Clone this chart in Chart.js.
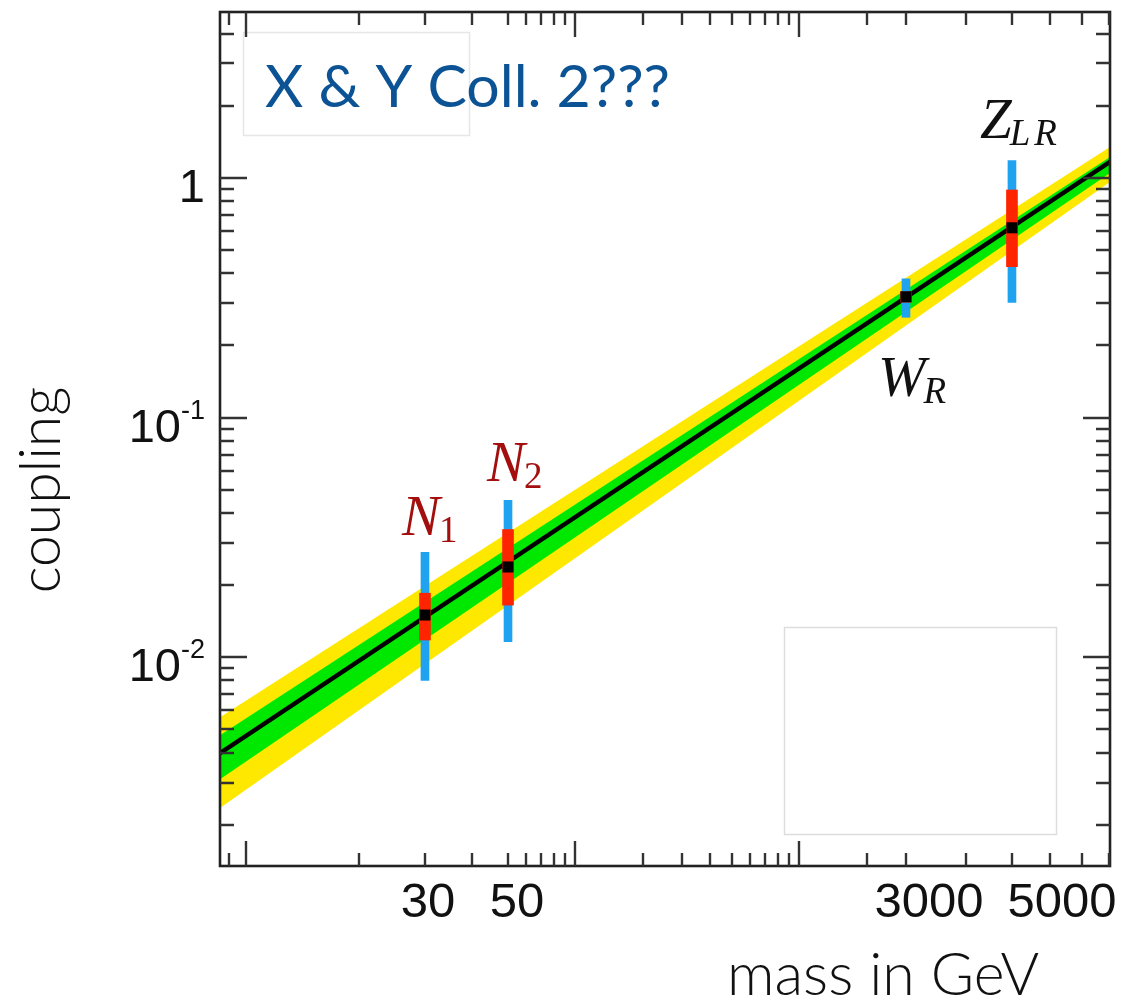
<!DOCTYPE html>
<html>
<head>
<meta charset="utf-8">
<title>coupling vs mass</title>
<script src="https://cdn.jsdelivr.net/npm/chart.js@4.4.1/dist/chart.umd.min.js"></script>
<style>
  html, body { margin: 0; padding: 0; background: #fff; }
  #chart { display: block; }
</style>
</head>
<body>
<canvas id="chart" width="1121" height="1001"></canvas>
<script>
// --- data ---
// particles: name, subscript, mass in GeV, central coupling and the two error ranges
const particleName = ['N', 'N', 'W', 'Z'];
const particleSub  = ['1', '2', 'R', 'LR'];
const massGeV      = [30, 50, 3000, 5000];
const coupling     = [0.0150, 0.0238, 0.319, 0.619];
const outerLow     = [0.0080, 0.0116, 0.262, 0.302];
const outerHigh    = [0.0274, 0.0451, 0.379, 1.18];
const innerLow     = [0.0118, 0.0165, 0.303, 0.426];
const innerHigh    = [0.0185, 0.0341, 0.335, 0.89];

// fitted line and its two bands, at both ends of the mass axis
const massRange    = [8.5, 8020];
const fitCoupling  = [0.00398, 1.166];
const greenLow     = [0.00310, 1.049];
const greenHigh    = [0.00473, 1.223];
const yellowLow    = [0.00235, 0.962];
const yellowHigh   = [0.00562, 1.346];

const couplingRange = [0.001346, 4.92];

// tick labels
const xTickMass   = [30, 50, 3000, 5000];
const xTickLabels = ['30', '50', '3000', '5000'];
const yTickValues = [0.01, 0.1, 1];
const yTickLabels = [['10', '-2'], ['10', '-1'], ['1', '']];

// The mass axis of the original is not a clean log axis, its pieces are stretched
// differently. log10(mass) is mapped linearly between these knots (0..1 = frame width).
const warpKnotMass = [30, 50, 3000, 5000];
const warpKnotPos  = [0.2303, 0.3236, 0.7708, 0.8899];

function warp(m) {
  const l = Math.log10(m);
  const L = warpKnotMass.map(v => Math.log10(v));
  let i = 0;
  while (i < L.length - 2 && l > L[i + 1]) i++;
  return warpKnotPos[i] + (l - L[i]) * (warpKnotPos[i + 1] - warpKnotPos[i]) / (L[i + 1] - L[i]);
}

const BaseLinear = Chart.LinearScale || Chart.registry.getScale('linear');
class WarpedLogScale extends BaseLinear {
  static id = 'warpedLog';
  static defaults = BaseLinear.defaults;
  parse(raw, index) {
    const v = super.parse(raw, index);
    return v === null || !(v > 0) ? null : warp(v);
  }
}
Chart.register(WarpedLogScale);

const pts = (xs, ys) => xs.map((x, i) => ({ x, y: ys[i] }));

// --- styles ---
const ink = '#222';
const labelColor = ['#a30f0f', '#a30f0f', '#111', '#111'];
const labelDx  = [-23, -21, -28, -32];
const labelGap = [17, 19, -79, 23];   // >0 above the outer bar, <0 below it
const xLabelNudge = [3, 9, 23, 50];

const decor = {
  id: 'decor',
  beforeDatasetsDraw(chart) {
    const { ctx, chartArea: a } = chart;
    ctx.save();
    ctx.lineWidth = 1.5;
    ctx.strokeStyle = '#e6e6e6';
    ctx.strokeRect(a.left + 23.5, a.top + 20.5, 226, 103);
    ctx.strokeStyle = '#dddddd';
    ctx.strokeRect(a.left + 564.5, a.top + 615.5, 272, 207);
    ctx.restore();
  },
  afterDatasetsDraw(chart) {
    const { ctx, chartArea: a } = chart;
    const xs = chart.scales.x, ys = chart.scales.y;
    ctx.save();

    // frame
    ctx.strokeStyle = ink;
    ctx.lineWidth = 2.6;
    ctx.strokeRect(a.left, a.top, a.right - a.left, a.bottom - a.top);

    // inward tick marks
    ctx.lineWidth = 2.4;
    ctx.strokeStyle = '#333';
    ctx.beginPath();
    for (let e = 0; e <= 4; e++) {
      for (let k = 1; k <= 9; k++) {
        const m = k * Math.pow(10, e);
        if (m < massRange[0] || m > massRange[1]) continue;
        const px = Math.round(xs.getPixelForValue(warp(m)));
        const len = k === 1 ? 25 : 13;
        ctx.moveTo(px, a.bottom); ctx.lineTo(px, a.bottom - len);
        ctx.moveTo(px, a.top); ctx.lineTo(px, a.top + len);
      }
    }
    for (let e = -3; e <= 0; e++) {
      for (let k = 1; k <= 9; k++) {
        const v = k * Math.pow(10, e);
        if (v < couplingRange[0] || v > couplingRange[1]) continue;
        const py = Math.round(ys.getPixelForValue(v));
        const len = k === 1 ? 27 : 14;
        ctx.moveTo(a.left, py); ctx.lineTo(a.left + len, py);
        ctx.moveTo(a.right, py); ctx.lineTo(a.right - len, py);
      }
    }
    ctx.stroke();

    // tick labels
    ctx.fillStyle = '#111';
    ctx.textBaseline = 'alphabetic';
    ctx.textAlign = 'center';
    ctx.font = '49px "Liberation Sans", Arial, sans-serif';
    xTickMass.forEach((m, i) => {
      ctx.fillText(xTickLabels[i], xs.getPixelForValue(warp(m)) + xLabelNudge[i], a.bottom + 51);
    });
    ctx.textAlign = 'left';
    yTickValues.forEach((v, i) => {
      const py = ys.getPixelForValue(v);
      const [base, sup] = yTickLabels[i];
      ctx.font = '47px "Liberation Sans", Arial, sans-serif';
      const wb = ctx.measureText(base).width;
      ctx.font = '27px "Liberation Sans", Arial, sans-serif';
      const ws = sup ? ctx.measureText(sup).width : 0;
      const x0 = 205 - wb - ws;
      ctx.font = '47px "Liberation Sans", Arial, sans-serif';
      ctx.fillText(base, x0, py + 24);
      if (sup) {
        ctx.font = '27px "Liberation Sans", Arial, sans-serif';
        ctx.fillText(sup, x0 + wb, py + 1);
      }
    });

    // axis titles
    ctx.fillStyle = '#111';
    ctx.font = '300 59px Lato, "Open Sans", sans-serif';
    ctx.textAlign = 'left';
    ctx.fillText('mass in GeV', 727, a.bottom + 129);
    ctx.save();
    ctx.translate(60, 490);
    ctx.rotate(-Math.PI / 2);
    ctx.textAlign = 'center';
    ctx.font = '300 57px Lato, "Open Sans", sans-serif';
    ctx.fillText('coupling', 0, 0);
    ctx.restore();

    // particle labels
    particleName.forEach((name, i) => {
      const px = xs.getPixelForValue(warp(massGeV[i])) + labelDx[i];
      const py = labelGap[i] > 0
        ? ys.getPixelForValue(outerHigh[i]) - labelGap[i]
        : ys.getPixelForValue(outerLow[i]) - labelGap[i];
      ctx.fillStyle = labelColor[i];
      ctx.textAlign = 'left';
      ctx.font = 'italic 57px "Liberation Serif", serif';
      ctx.fillText(name, px, py);
      const w = ctx.measureText(name).width;
      const isNum = /^[0-9]+$/.test(particleSub[i]);
      ctx.font = (isNum ? '' : 'italic ') + '37px "Liberation Serif", serif';
      if (!isNum) ctx.letterSpacing = '4px';
      ctx.fillText(particleSub[i], px + w - (isNum ? 1 : 2), py + 7);
      ctx.letterSpacing = '0px';
    });

    // heading
    ctx.fillStyle = '#0b5394';
    ctx.font = '59px Lato, "Open Sans", sans-serif';
    ctx.textAlign = 'left';
    ctx.fillText('X & Y Coll. 2???', a.left + 45, a.top + 95);

    ctx.restore();
  }
};

new Chart(document.getElementById('chart'), {
  type: 'line',
  data: {
    datasets: [
      { data: pts(massRange, yellowHigh), fill: '+1', backgroundColor: '#ffe800',
        borderWidth: 0, borderColor: 'rgba(0,0,0,0)', pointRadius: 0, order: 10 },
      { data: pts(massRange, yellowLow), fill: false,
        borderWidth: 0, borderColor: 'rgba(0,0,0,0)', pointRadius: 0, order: 10 },
      { data: pts(massRange, greenHigh), fill: '+1', backgroundColor: '#00e800',
        borderWidth: 0, borderColor: 'rgba(0,0,0,0)', pointRadius: 0, order: 9 },
      { data: pts(massRange, greenLow), fill: false,
        borderWidth: 0, borderColor: 'rgba(0,0,0,0)', pointRadius: 0, order: 9 },
      { data: pts(massRange, fitCoupling), fill: false, borderColor: '#000',
        borderWidth: 4.5, pointRadius: 0, order: 8 },
      { type: 'bar', data: massGeV.map((m, i) => ({ x: m, y: [outerLow[i], outerHigh[i]] })),
        backgroundColor: '#1fa3f0', barThickness: 8, grouped: false, borderWidth: 0, order: 7 },
      { type: 'bar', data: massGeV.map((m, i) => ({ x: m, y: [innerLow[i], innerHigh[i]] })),
        backgroundColor: '#ff2400', barThickness: 11, grouped: false, borderWidth: 0, order: 6 },
      { data: pts(massGeV, coupling), showLine: false, pointStyle: 'rect', pointRadius: 7.8,
        pointBackgroundColor: '#000', pointBorderWidth: 0, order: 5 }
    ]
  },
  options: {
    responsive: false,
    animation: false,
    devicePixelRatio: 1,
    layout: { padding: { top: 12, right: 11, left: 0, bottom: 0 } },
    plugins: { legend: { display: false }, tooltip: { enabled: false } },
    scales: {
      x: {
        type: 'warpedLog', min: massRange[0], max: massRange[1], bounds: 'data', offset: false,
        grid: { display: false, offset: false }, border: { display: false }, ticks: { display: false },
        afterFit: s => { s.height = 135; }
      },
      y: {
        type: 'logarithmic', min: couplingRange[0], max: couplingRange[1], bounds: 'data', beginAtZero: false,
        grid: { display: false }, border: { display: false }, ticks: { display: false },
        afterFit: s => { s.width = 220; }
      }
    }
  },
  plugins: [decor]
});
</script>
</body>
</html>
